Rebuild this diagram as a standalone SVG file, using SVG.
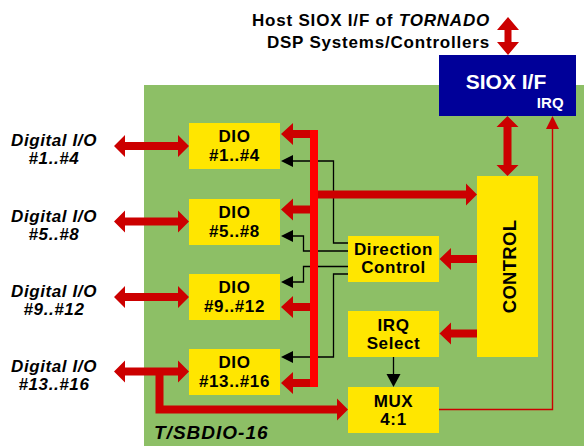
<svg xmlns="http://www.w3.org/2000/svg" width="584" height="446" viewBox="0 0 584 446">
<style>
.t{font-family:"Liberation Sans",Arial,sans-serif;font-weight:bold;font-size:17px;letter-spacing:0.6px;fill:#000;text-anchor:middle}
.it{font-style:italic}
.box{fill:#FFE600}
.ar{fill:#CC0000}
.bus{fill:#FF0000}
.bl{fill:none;stroke:#000;stroke-width:1.3}
.bh{fill:#000}
.thin{fill:none;stroke:#CC0000;stroke-width:1.4}
</style>
<rect x="0" y="0" width="584" height="446" fill="#fff"/>
<rect id="board" x="144" y="85" width="440" height="361" fill="#8DBF66"/>

<g id="host-label">
<text class="t" x="490" y="25.5" style="text-anchor:end;letter-spacing:0.8px">Host SIOX I/F of <tspan class="it">TORNADO</tspan></text>
<text class="t" x="490" y="47.5" style="text-anchor:end;letter-spacing:0.8px">DSP Systems/Controllers</text>
</g>

<g id="io-labels">
<text class="t it" x="54" y="145.5">Digital I/O</text>
<text class="t it" x="54" y="164">#1..#4</text>
<text class="t it" x="54" y="221.5">Digital I/O</text>
<text class="t it" x="54" y="240">#5..#8</text>
<text class="t it" x="54" y="296.5">Digital I/O</text>
<text class="t it" x="54" y="315">#9..#12</text>
<text class="t it" x="54" y="371.5">Digital I/O</text>
<text class="t it" x="54" y="390">#13..#16</text>
</g>

<g id="connectors">
<path class="bl" d="M292,161 H333.5 V243 H348"/>
<path class="bl" d="M292,236 H303.5 V251 H348"/>
<path class="bl" d="M292,282 H303.5 V266.5 H348"/>
<path class="bl" d="M292,357 H333.5 V274 H348"/>
<polygon class="bh" points="281,161 293,155 293,167"/>
<polygon class="bh" points="281,236 293,230 293,242"/>
<polygon class="bh" points="281,282 293,276 293,288"/>
<polygon class="bh" points="281,357 293,351 293,363"/>
<rect class="bus" x="310" y="130" width="8" height="257"/>
<polygon class="ar" points="281,134 293,123 293,130 310,130 310,138 293,138 293,145"/>
<polygon class="ar" points="281,209.5 293,198.5 293,205.5 310,205.5 310,213.5 293,213.5 293,220.5"/>
<polygon class="ar" points="281,307 293,296 293,303 310,303 310,311 293,311 293,318"/>
<polygon class="ar" points="281,383 293,372 293,379 310,379 310,387 293,387 293,394"/>
<polygon class="ar" points="318,190.5 466,190.5 466,183.5 477,194.5 466,205.5 466,198.5 318,198.5"/>
<polygon class="ar" points="477,255 451,255 451,248 439.5,259 451,270 451,263 477,263"/>
<polygon class="ar" points="477,329.5 451,329.5 451,322.5 439.5,333.5 451,344.5 451,337.5 477,337.5"/>
<polygon class="ar" points="114,146 125,135 125,142 178,142 178,135 189,146 178,157 178,150 125,150 125,157"/>
<polygon class="ar" points="114,221.5 125,210.5 125,217.5 178,217.5 178,210.5 189,221.5 178,232.5 178,225.5 125,225.5 125,232.5"/>
<polygon class="ar" points="114,297 125,286 125,293 178,293 178,286 189,297 178,308 178,301 125,301 125,308"/>
<polygon class="ar" points="114,371.5 125,360.5 125,367.5 178,367.5 178,360.5 189,371.5 178,382.5 178,375.5 125,375.5 125,382.5"/>
<polygon class="ar" points="155.5,371 163.5,371 163.5,405.5 337,405.5 337,398.5 348,409.5 337,420.5 337,413.5 155.5,413.5"/>
<polygon class="ar" points="508,17 519,30 511.5,30 511.5,42 519,42 508,55 497,42 504.5,42 504.5,30 497,30"/>
<polygon class="ar" points="507.5,116 518.5,127 511.5,127 511.5,165 518.5,165 507.5,176 496.5,165 503.5,165 503.5,127 496.5,127"/>
<path class="bl" d="M393.5,357 V375"/>
<polygon class="bh" points="393.5,387 386.5,374 400.5,374"/>
<path class="thin" d="M439,409.5 H552.5 V128"/>
<polygon class="ar" points="552.5,116 546,129 559,129"/>
</g>

<g id="siox">
<rect x="439" y="55" width="137" height="61" fill="#000099"/>
<text class="t" x="506" y="89" style="fill:#fff;font-size:21px;letter-spacing:0">SIOX I/F</text>
<text class="t" x="564" y="108" style="fill:#fff;font-size:15px;text-anchor:end;letter-spacing:0.2px">IRQ</text>
</g>

<g id="dio1"><rect class="box" x="189" y="123" width="91" height="46"/><text class="t" x="234.5" y="141.7">DIO</text><text class="t" x="234.5" y="161">#1..#4</text></g>
<g id="dio5"><rect class="box" x="189" y="199" width="91" height="46"/><text class="t" x="234.5" y="217.7">DIO</text><text class="t" x="234.5" y="237">#5..#8</text></g>
<g id="dio9"><rect class="box" x="189" y="274" width="91" height="46"/><text class="t" x="234.5" y="292.7">DIO</text><text class="t" x="234.5" y="312">#9..#12</text></g>
<g id="dio13"><rect class="box" x="189" y="349" width="91" height="46"/><text class="t" x="234.5" y="367.7">DIO</text><text class="t" x="234.5" y="387">#13..#16</text></g>

<g id="direction"><rect class="box" x="348" y="236" width="91" height="46"/><text class="t" x="393.5" y="255">Direction</text><text class="t" x="393.5" y="273.3">Control</text></g>
<g id="irqsel"><rect class="box" x="348" y="311" width="91" height="46"/><text class="t" x="393.5" y="330.7">IRQ</text><text class="t" x="393.5" y="349.3">Select</text></g>
<g id="mux"><rect class="box" x="348" y="387" width="91" height="46"/><text class="t" x="393.5" y="406.7">MUX</text><text class="t" x="393.5" y="425">4:1</text></g>
<g id="control"><rect class="box" x="477" y="176" width="61" height="181"/><text class="t" transform="translate(516,266.5) rotate(-90)" x="0" y="0" style="font-size:18.5px;letter-spacing:0.3px">CONTROL</text></g>

<text id="board-label" class="t it" x="154" y="439.3" style="text-anchor:start;font-size:19px;letter-spacing:1px">T/SBDIO-16</text>
</svg>
